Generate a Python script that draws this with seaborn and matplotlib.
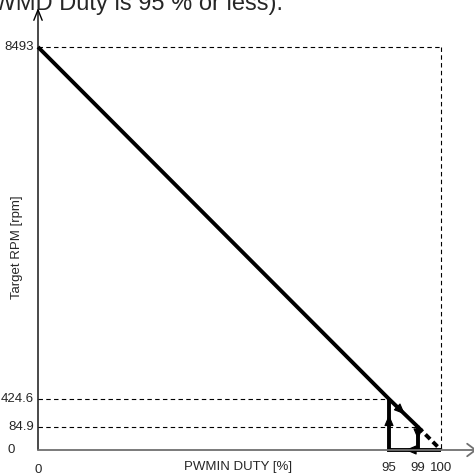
import numpy as np
import pandas as pd
import matplotlib
matplotlib.use("Agg")
import matplotlib.pyplot as plt
import seaborn as sns

# ---------------- data ----------------
duty_ticks = [0, 95, 99, 100]
duty_tick_labels = ["0", "95", "99", "100"]
rpm_ticks = [0, 84.9, 424.6, 8493]
rpm_tick_labels = ["0", "84.9", "424.6", "8493"]

# solid characteristic (falling) and hysteresis return path
main_duty = [0, 95, 99, 99]
main_rpm = [8493, 424.6, 84.9, 0]
return_duty = [100, 95, 95]
return_rpm = [0, 0, 424.6]
# dashed tail
tail_duty = [99, 100]
tail_rpm = [84.9, 0]

title_text = "(PWMD Duty is 95 % or less)."
x_label = "PWMIN DUTY [%]"
y_label = "Target RPM [rpm]"

# ---------------- schematic (non-linear) scale ----------------
W, H = 474, 475
X_PIX = [38, 389, 418, 441]      # pixel positions of duty ticks
Y_PIX = [25, 48, 76, 428]        # pixel positions (from bottom) of rpm ticks


def make_pw(knots, pix):
    k = np.asarray(knots, float)
    p = np.asarray(pix, float)
    s0 = (p[1] - p[0]) / (k[1] - k[0])
    s1 = (p[-1] - p[-2]) / (k[-1] - k[-2])

    def fwd(v):
        v = np.asarray(v, float)
        out = np.interp(v, k, p)
        out = np.where(v < k[0], p[0] + (v - k[0]) * s0, out)
        out = np.where(v > k[-1], p[-1] + (v - k[-1]) * s1, out)
        return out

    def inv(q):
        q = np.asarray(q, float)
        out = np.interp(q, p, k)
        out = np.where(q < p[0], k[0] + (q - p[0]) / s0, out)
        out = np.where(q > p[-1], k[-1] + (q - p[-1]) / s1, out)
        return out

    return fwd, inv


xf, xi = make_pw(duty_ticks, X_PIX)
yf, yi = make_pw(rpm_ticks, Y_PIX)

sns.set_style("white")
plt.rcParams["font.family"] = ["Liberation Sans", "DejaVu Sans"]

fig = plt.figure(figsize=(W / 100, H / 100), dpi=100)
ax = fig.add_axes([0, 0, 1, 1])
ax.set_xscale("function", functions=(xf, xi))
ax.set_yscale("function", functions=(yf, yi))
ax.set_xlim(float(xi(0)), float(xi(W)))
ax.set_ylim(float(yi(0)), float(yi(H)))
ax.axis("off")

# ---------------- thin dashed guide lines ----------------
guides = pd.DataFrame({
    "duty": [0, duty_ticks[3], duty_ticks[3], duty_ticks[3],
             0, duty_ticks[1], 0, duty_ticks[2]],
    "rpm": [rpm_ticks[3], rpm_ticks[3], rpm_ticks[3], 0,
            rpm_ticks[2], rpm_ticks[2], rpm_ticks[1], rpm_ticks[1]],
    "seg": [0, 0, 1, 1, 2, 2, 3, 3],
})
sns.lineplot(data=guides, x="duty", y="rpm", units="seg", estimator=None,
             sort=False, color="black", lw=0.8, linestyle=(0, (4, 3)),
             ax=ax, legend=False)

# ---------------- thick characteristic ----------------
solid = pd.DataFrame({
    "duty": main_duty + return_duty,
    "rpm": main_rpm + return_rpm,
    "seg": [0] * len(main_duty) + [1] * len(return_duty),
})
sns.lineplot(data=solid, x="duty", y="rpm", units="seg", estimator=None,
             sort=False, color="black", lw=2.8, ax=ax, legend=False,
             solid_joinstyle="miter", solid_capstyle="butt")
sns.lineplot(x=tail_duty, y=tail_rpm, estimator=None, sort=False,
             color="black", lw=2.8, linestyle=(0, (1.7, 1.0)), ax=ax,
             legend=False)

# direction arrows on the characteristic (mid-segment)
def seg_arrow(p0, p1):
    a = (p0[0] + (p1[0] - p0[0]) * 0.45, p0[1] + (p1[1] - p0[1]) * 0.45)
    b = (p0[0] + (p1[0] - p0[0]) * 0.55, p0[1] + (p1[1] - p0[1]) * 0.55)
    ax.annotate("", xy=b, xytext=a,
                arrowprops=dict(arrowstyle="-|>,head_length=0.75,head_width=0.32",
                                color="black", lw=0.8, shrinkA=0, shrinkB=0,
                                mutation_scale=9))

seg_arrow((return_duty[1], return_rpm[1]), (return_duty[2], return_rpm[2]))
seg_arrow((main_duty[1], main_rpm[1]), (main_duty[2], main_rpm[2]))
seg_arrow((main_duty[2], main_rpm[2]), (main_duty[3], main_rpm[3]))
seg_arrow((return_duty[0], return_rpm[0]), (return_duty[1], return_rpm[1]))

# ---------------- axes with arrows ----------------
ax.annotate("", xy=(0, float(yi(H - 8))), xytext=(0, 0),
            arrowprops=dict(arrowstyle="->,head_length=0.75,head_width=0.3",
                            color="black", lw=1.0, shrinkA=0, shrinkB=0,
                            mutation_scale=10), annotation_clip=False)
ax.annotate("", xy=(float(xi(W + 3)), 0), xytext=(0, 0),
            arrowprops=dict(arrowstyle="->,head_length=0.6,head_width=0.45",
                            color="#707070", lw=1.3, shrinkA=0, shrinkB=0,
                            mutation_scale=10), annotation_clip=False)

# ---------------- tick labels ----------------
y_off = {"0": -17}
for v, lab in zip(rpm_ticks, rpm_tick_labels):
    ax.annotate(lab, xy=(0, v), xytext=(y_off.get(lab, -3), 0),
                textcoords="offset points", ha="right", va="center",
                fontsize=9.5, annotation_clip=False)
x_off = {"0": -14.5}
for v, lab in zip(duty_ticks, duty_tick_labels):
    ax.annotate(lab, xy=(v, 0), xytext=(0, x_off.get(lab, -13)),
                textcoords="offset points", ha="center", va="center",
                fontsize=9.5, annotation_clip=False)

fig.text(238 / W, 8 / H, x_label, ha="center", va="center", fontsize=9.5)
fig.text(17 / W, 1 - 247 / H, y_label, ha="center", va="center",
         rotation=90, fontsize=9.5)
fig.text(283 / W, 1 - 10 / H, title_text, ha="right", va="baseline",
         fontsize=17)

fig.savefig("out.png", dpi=100)
